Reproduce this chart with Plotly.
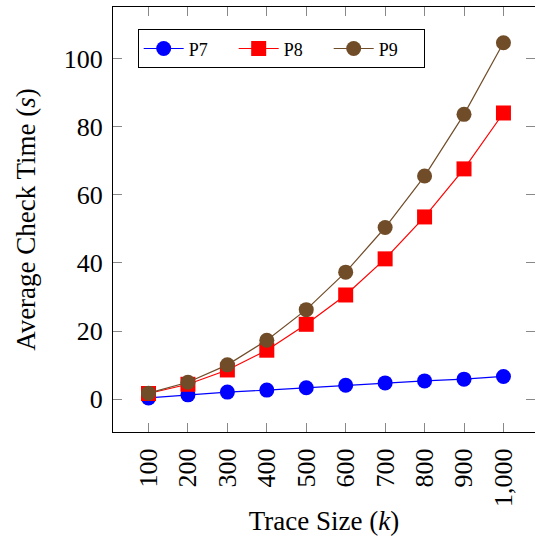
import plotly.graph_objects as go

trace_sizes = [100, 200, 300, 400, 500, 600, 700, 800, 900, 1000]
tick_labels = ["100", "200", "300", "400", "500", "600", "700", "800", "900", "1,000"]
y_ticks = [0, 20, 40, 60, 80, 100]
p7 = [0.4, 1.3, 2.1, 2.7, 3.4, 4.1, 4.8, 5.4, 5.9, 6.7]
p8 = [1.7, 4.4, 8.6, 14.4, 22.0, 30.6, 41.2, 53.5, 67.6, 84.0]
p9 = [1.8, 5.0, 10.1, 17.3, 26.3, 37.3, 50.4, 65.5, 83.6, 104.6]

series = [("P7", p7, "#0000ff", "circle"),
          ("P8", p8, "#ff0000", "square"),
          ("P9", p9, "#704c28", "circle")]

fig = go.Figure()
for name, vals, col, sym in series:
    fig.add_trace(go.Scatter(
        x=trace_sizes, y=vals, name=name, mode="lines+markers",
        line=dict(color=col, width=1.2),
        marker=dict(color=col, size=15, symbol=sym, line=dict(width=0)),
    ))

font_family = "Liberation Serif"
y_range = [-9.6, 115.1]
fig.update_layout(
    width=535, height=536,
    margin=dict(l=113, r=0, t=7, b=104),
    paper_bgcolor="white", plot_bgcolor="white",
    font=dict(family=font_family, size=26, color="black"),
    showlegend=True,
    legend=dict(
        orientation="h", x=0.0585, y=0.9475, xanchor="left", yanchor="top",
        bordercolor="black", borderwidth=1, bgcolor="white",
        font=dict(family=font_family, size=18, color="black"),
        itemwidth=40, tracegroupgap=0, entrywidth=40, entrywidthmode="pixels",
    ),
    xaxis=dict(
        range=[10, 1080], tickvals=trace_sizes, ticktext=tick_labels,
        tickangle=-90, ticks="inside", ticklen=9, tickcolor="#888",
        showline=True, linecolor="black", linewidth=1.3, mirror="ticks",
        showgrid=False, zeroline=False, automargin=False,
        tickfont=dict(family=font_family, size=26),
        ticklabelstandoff=5,
        title=dict(text="Trace Size (<i>k</i>)", font=dict(family=font_family, size=27), standoff=6),
    ),
    yaxis=dict(
        range=y_range, tickvals=y_ticks,
        ticks="inside", ticklen=9, tickcolor="#888",
        showline=True, linecolor="black", linewidth=1.3, mirror=False,
        showgrid=False, zeroline=False, automargin=False,
        tickfont=dict(family=font_family, size=26),
        ticklabelstandoff=4,
        title=dict(text="Average Check Time (<i>s</i>)", font=dict(family=font_family, size=27), standoff=20),
    ),
    yaxis2=dict(
        range=y_range, tickvals=y_ticks, overlaying="y", side="right",
        ticks="inside", ticklen=9, tickcolor="#888", showticklabels=False,
        showline=False, showgrid=False, zeroline=False, automargin=False,
    ),
)
# invisible helper trace to activate the right-side tick axis
fig.add_trace(go.Scatter(x=[trace_sizes[0]], y=[p7[0]], yaxis="y2", mode="markers",
                         marker=dict(opacity=0), showlegend=False, hoverinfo="skip"))

fig.write_html(
    "out.html",
    config={"displayModeBar": False},
    post_script="document.body.style.margin='0';document.body.style.overflow='hidden';",
)
